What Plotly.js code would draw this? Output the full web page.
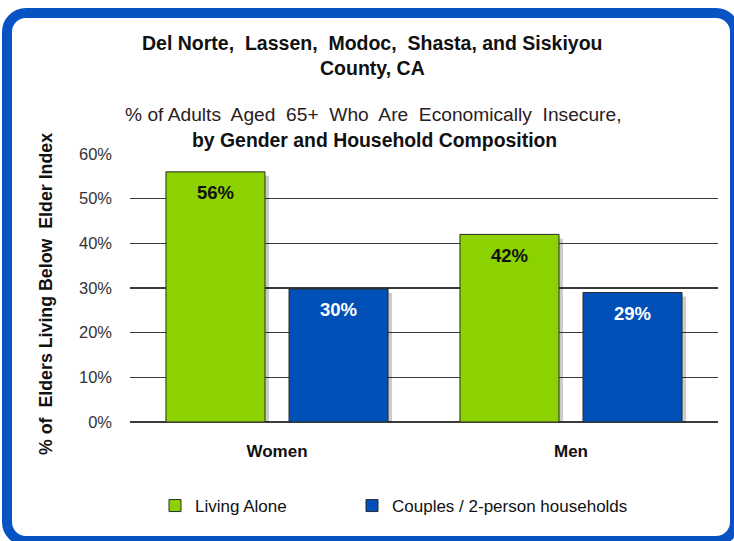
<!DOCTYPE html>
<html>
<head>
<meta charset="utf-8">
<script src="https://cdn.plot.ly/plotly-3.0.1.min.js"></script>
<style>
  html, body { margin: 0; padding: 0; background: #ffffff; overflow: hidden; }
  #frame {
    position: absolute; left: 2px; top: 8px; width: 718px; height: 518px;
    border: 10px solid #0853c4; border-radius: 24px; background: #ffffff;
  }
  #chart { position: absolute; left: 0; top: 0; width: 734px; height: 541px; }
</style>
</head>
<body>
<div id="frame"></div>
<div id="chart"></div>
<script>
const categories = ["Women", "Men"];
const seriesNames = ["Living Alone", "Couples / 2-person households"];
const livingAlone = [56, 42];
const couples = [29.8, 29];
const livingAloneLabels = ["56%", "42%"];
const couplesLabels = ["30%", "29%"];
const yTickVals = [0, 10, 20, 30, 40, 50, 60];
const yTickText = ["0%", "10%", "20%", "30%", "40%", "50%", "60%"];

const FONT = "Liberation Sans, Arial, sans-serif";
const colors = ["#8cd200", "#0050b8"];
const labelColors = ["#111111", "#ffffff"];

const W = 734, H = 541;
const M = { l: 130, r: 16, t: 154, b: 119 };
const BARGAP = 0.163, BARGROUPGAP = 0.195;
const YMAX = 60;

const plotW = W - M.l - M.r;
const plotH = H - M.t - M.b;
const catW = plotW / categories.length;
const slotW = catW * (1 - BARGAP) / 2;

// drop-shadow offset (pixels) converted into axis-range shifts
const SH_X = 4, SH_Y = 4;
const dx = SH_X / catW;
const dy = SH_Y * YMAX / plotH;

const seriesVals = [livingAlone, couples];
const seriesLabels = [livingAloneLabels, couplesLabels];

const traces = [];
// shadows (main subplot, shifted axes)
seriesVals.forEach((vals) => {
  traces.push({
    type: "bar", x: categories, y: vals, xaxis: "x", yaxis: "y",
    marker: { color: "rgba(0,0,0,0.2)", line: { width: 0 } },
    showlegend: false, hoverinfo: "skip"
  });
});
// real bars (overlay subplot, true axes)
seriesVals.forEach((vals, s) => {
  traces.push({
    type: "bar", name: seriesNames[s], x: categories, y: vals, xaxis: "x2", yaxis: "y2",
    marker: { color: colors[s], line: { color: "#2a2a2a", width: 1 } },
    legend: s === 0 ? "legend" : "legend2",
    hoverinfo: "skip"
  });
});

const valueAnns = [];
seriesVals.forEach((vals, s) => {
  vals.forEach((v, i) => {
    valueAnns.push({
      x: categories[i], y: v, xref: "x2", yref: "y2",
      xshift: (s === 0 ? -1 : 1) * slotW / 2, yshift: -21,
      text: "<b>" + seriesLabels[s][i] + "</b>", showarrow: false,
      xanchor: "center", yanchor: "middle",
      font: { family: FONT, size: 18.5, color: labelColors[s] }
    });
  });
});

function py(p) { return (H - M.b - p) / plotH; }
function px(p) { return (p - M.l) / plotW; }

const legendFont = { family: FONT, size: 17, color: "#111111" };

const layout = {
  width: W, height: H,
  margin: M,
  paper_bgcolor: "rgba(0,0,0,0)",
  plot_bgcolor: "rgba(0,0,0,0)",
  font: { family: FONT, color: "#222222" },
  barmode: "group",
  bargap: BARGAP,
  bargroupgap: BARGROUPGAP,
  xaxis: {
    type: "category", range: [-0.5 - dx, categories.length - 0.5 - dx],
    showgrid: false, zeroline: false, showline: false, showticklabels: false, ticks: ""
  },
  yaxis: {
    range: [dy, YMAX + dy],
    showgrid: false, zeroline: false, showline: false, showticklabels: false, ticks: ""
  },
  xaxis2: {
    type: "category", overlaying: "x", anchor: "y2", side: "bottom",
    range: [-0.5, categories.length - 0.5],
    showgrid: false, zeroline: false, showline: false,
    ticks: "", ticklabelstandoff: 17,
    tickfont: { family: FONT, size: 17, color: "#111111", weight: "bold" }
  },
  yaxis2: {
    overlaying: "y", anchor: "x2", side: "left",
    range: [0, YMAX], tickvals: yTickVals, ticktext: yTickText,
    showgrid: true, gridcolor: "#3a3a3a", gridwidth: 1.4,
    zeroline: true, zerolinecolor: "#3a3a3a", zerolinewidth: 1.4,
    showline: false, ticks: "", ticklabelstandoff: 17,
    tickfont: { family: FONT, size: 16.5, color: "#333333" }
  },
  showlegend: true,
  legend: {
    orientation: "h", x: px(155), xanchor: "left", y: py(506), yanchor: "middle",
    font: legendFont, bgcolor: "rgba(0,0,0,0)"
  },
  legend2: {
    orientation: "h", x: px(352), xanchor: "left", y: py(506), yanchor: "middle",
    font: legendFont, bgcolor: "rgba(0,0,0,0)"
  },
  annotations: [
    { text: "<b>Del Norte,  Lassen,  Modoc,  Shasta, and Siskiyou</b>", xref: "paper", yref: "paper",
      x: px(372.5), y: py(43), xanchor: "center", yanchor: "middle", showarrow: false,
      font: { family: FONT, size: 19.5, color: "#111111" } },
    { text: "<b>County, CA</b>", xref: "paper", yref: "paper",
      x: px(372.5), y: py(68), xanchor: "center", yanchor: "middle", showarrow: false,
      font: { family: FONT, size: 19.5, color: "#111111" } },
    { text: "% of Adults  Aged  65+  Who  Are  Economically  Insecure,", xref: "paper", yref: "paper",
      x: px(372.5), y: py(114), xanchor: "center", yanchor: "middle", showarrow: false,
      font: { family: FONT, size: 19.2, color: "#2a2020" } },
    { text: "<b>by Gender and Household Composition</b>", xref: "paper", yref: "paper",
      x: px(374.5), y: py(140), xanchor: "center", yanchor: "middle", showarrow: false,
      font: { family: FONT, size: 19.4, color: "#111111" } },
    { text: "<b>% of  Elders Living Below  Elder Index</b>", xref: "paper", yref: "paper",
      x: px(46), y: py(294), xanchor: "center", yanchor: "middle", showarrow: false,
      textangle: -90, font: { family: FONT, size: 17.8, color: "#111111" } }
  ].concat(valueAnns)
};

Plotly.newPlot("chart", traces, layout, { displayModeBar: false, staticPlot: true });
</script>
</body>
</html>
